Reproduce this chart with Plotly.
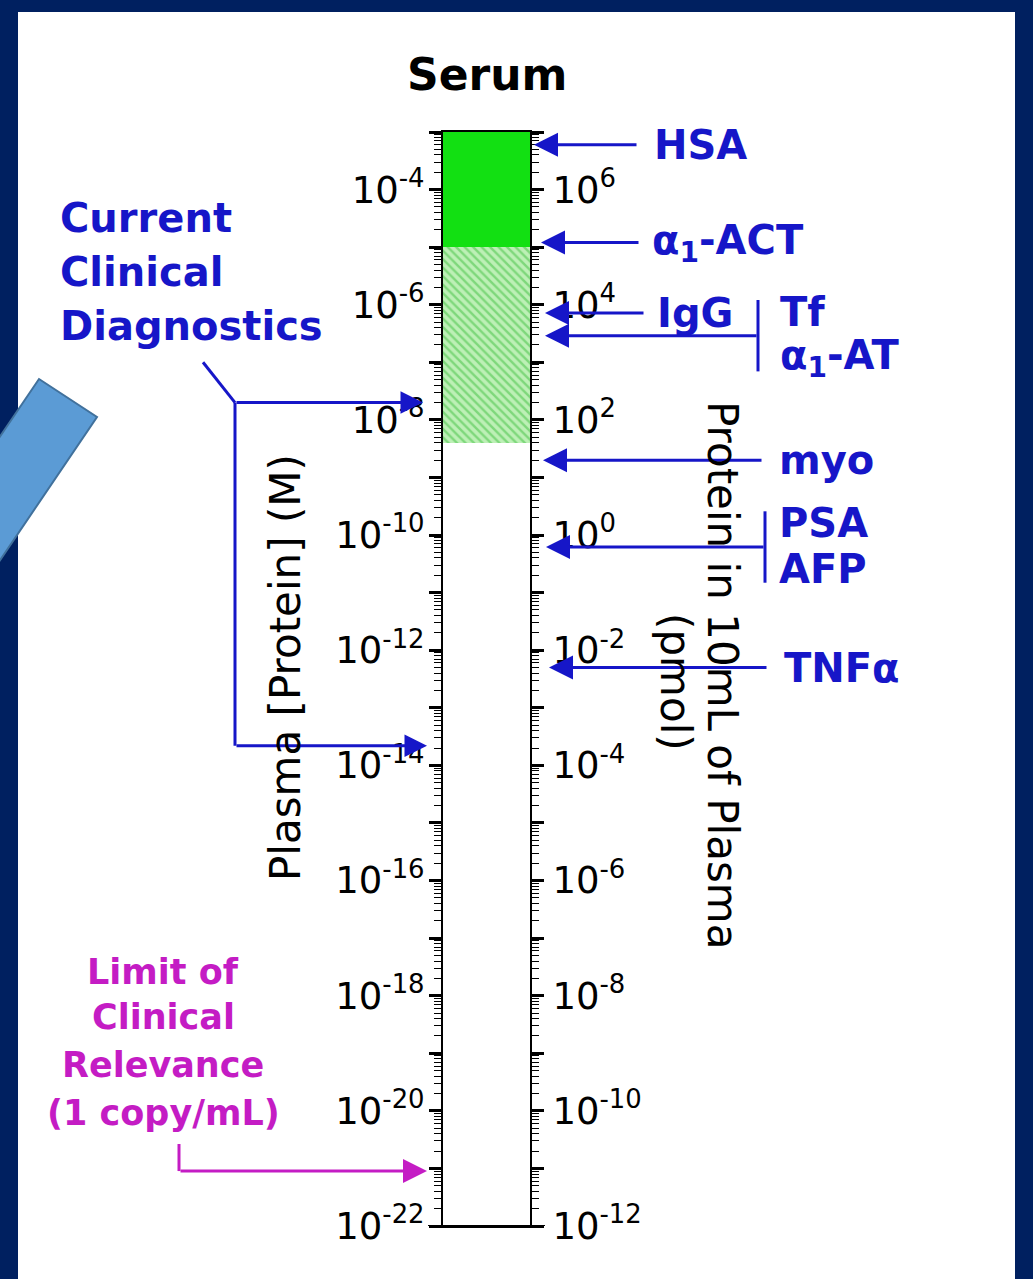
import numpy as np
import plotly.graph_objects as go

W, H = 1033, 1279

# ---- data -----------------------------------------------------------------
# proteins marked on the right-hand side and their plasma concentration (M)
protein_labels = [["HSA"], ["α<sub>1</sub>-ACT"], ["IgG"], ["Tf", "α<sub>1</sub>-AT"],
                  ["myo"], ["PSA", "AFP"], ["TNFα"]]
protein_conc_M = [6.0e-4, 1.2e-5, 7.2e-7, 2.9e-7, 2.0e-9, 6.2e-11, 5.0e-13]

# shaded column: hatched lower band and solid upper band (M)
band_low_M = [4.0e-9, 1.0e-5]
band_high_M = [1.0e-5, 1.0e-3]

# span covered by current clinical diagnostics (M)
clinical_range_M = [2.2e-14, 2.0e-8]
# limit of clinical relevance, 1 copy/mL (M)
limit_M = 9.0e-22

# axis ranges (log10) and tick labels
conc_range_log = [-22, -3]
pmol_per_M = 1e10            # 10 mL of plasma, expressed in pmol
left_tick_exp = [-22, -20, -18, -16, -14, -12, -10, -8, -6, -4]
left_tick_labels = ["10<sup>-22</sup>", "10<sup>-20</sup>", "10<sup>-18</sup>", "10<sup>-16</sup>",
                    "10<sup>-14</sup>", "10<sup>-12</sup>", "10<sup>-10</sup>", "10<sup>-8</sup>",
                    "10<sup>-6</sup>", "10<sup>-4</sup>"]
right_tick_exp = [-12, -10, -8, -6, -4, -2, 0, 2, 4, 6]
right_tick_labels = ["10<sup>-12</sup>", "10<sup>-10</sup>", "10<sup>-8</sup>", "10<sup>-6</sup>",
                     "10<sup>-4</sup>", "10<sup>-2</sup>", "10<sup>0</sup>", "10<sup>2</sup>",
                     "10<sup>4</sup>", "10<sup>6</sup>"]

# ---- style ----------------------------------------------------------------
NAVY = "#002060"
BLUE = "#1616c8"
MAGENTA = "#c41cc4"
FONT = "DejaVu Sans"


def px(x):
    return x / W


def py(y):
    return 1 - y / H


pmol_range_log = [r + np.log10(pmol_per_M) for r in conc_range_log]

fig = go.Figure()

# hatched band
fig.add_bar(x=[0], base=[band_low_M[0]], y=[band_high_M[0] - band_low_M[0]], width=1,
            marker=dict(color="#bff2b8", line=dict(width=0),
                        pattern=dict(shape="\\", fgcolor="#3fbf3f", bgcolor="#bdf0b6",
                                     size=6, solidity=0.4)),
            hoverinfo="skip", showlegend=False)
# solid band
fig.add_bar(x=[0], base=[band_low_M[1]], y=[band_high_M[1] - band_low_M[1]], width=1,
            marker=dict(color="#12e012", line=dict(width=0)),
            hoverinfo="skip", showlegend=False)

# empty traces so the overlaid tick / label axes are drawn
for yax in ["y2", "y3", "y4"]:
    fig.add_scatter(x=[None], y=[None], yaxis=yax, mode="markers",
                    hoverinfo="skip", showlegend=False)

tick_font = dict(family=FONT, size=37, color="black")
ydom = [py(1226), py(132)]

fig.update_layout(
    width=W, height=H, autosize=False,
    margin=dict(l=0, r=0, t=0, b=0, autoexpand=False),
    paper_bgcolor=NAVY, plot_bgcolor="white",
    barmode="overlay", bargap=0, showlegend=False,
    xaxis=dict(domain=[px(443), px(530)], range=[-0.5, 0.5], showticklabels=False,
               ticks="", showgrid=False, zeroline=False, showline=True, automargin=False,
               linecolor="black", linewidth=2, mirror=True, fixedrange=True),
    yaxis=dict(domain=ydom, type="log", range=conc_range_log, tickmode="linear",
               tick0=0, dtick=1, ticks="outside", ticklen=12, tickwidth=2.5,
               tickcolor="black", showticklabels=False, showgrid=False, zeroline=False,
               showline=True, linecolor="black", linewidth=2, automargin=False,
               minor=dict(ticks="outside", ticklen=7, tickwidth=1.2, tickcolor="black",
                          dtick="D1", showgrid=False)),
    yaxis2=dict(overlaying="y", anchor="x", side="left", type="log", range=conc_range_log,
                tickmode="array", tickvals=[10.0 ** e for e in left_tick_exp],
                ticktext=left_tick_labels, ticks="outside", ticklen=10,
                tickcolor="rgba(0,0,0,0)", tickfont=tick_font, showgrid=False,
                zeroline=False, showline=False, automargin=False),
    yaxis3=dict(overlaying="y", anchor="x", side="right", type="log", range=pmol_range_log,
                tickmode="linear", tick0=0, dtick=1, ticks="outside", ticklen=12,
                tickwidth=2.5, tickcolor="black", showticklabels=False, showgrid=False,
                zeroline=False, showline=True, linecolor="black", linewidth=2,
                automargin=False,
                minor=dict(ticks="outside", ticklen=7, tickwidth=1.2, tickcolor="black",
                           dtick="D1", showgrid=False)),
    yaxis4=dict(overlaying="y", anchor="x", side="right", type="log", range=pmol_range_log,
                tickmode="array", tickvals=[10.0 ** e for e in right_tick_exp],
                ticktext=right_tick_labels, ticks="outside", ticklen=14,
                tickcolor="rgba(0,0,0,0)", tickfont=tick_font, showgrid=False,
                zeroline=False, showline=False, automargin=False),
)

# white slide panel and the blue block arrow on its left edge
fig.add_shape(type="rect", xref="paper", yref="paper", x0=px(18), x1=px(1015),
              y0=-0.02, y1=py(12), fillcolor="white", line=dict(width=0), layer="below")
chevron = [(39, 379), (97, 417), (-29, 603), (-87, 565)]
path = "M " + " L ".join(f"{px(a):.5f},{py(b):.5f}" for a, b in chevron) + " Z"
fig.add_shape(type="path", xref="paper", yref="paper", path=path,
              fillcolor="#5b9bd5", line=dict(color="#41719c", width=2), layer="above")

# bottom rule spanning the tick marks
fig.add_shape(type="line", xref="paper", yref="y", x0=px(428), x1=px(545),
              y0=10.0 ** conc_range_log[0], y1=10.0 ** conc_range_log[0],
              line=dict(color="black", width=2))

# ---- right-hand protein markers -------------------------------------------
tip_px = [534, 541, 545, 545, 543, 546, 549]
tail_px = [638, 640, 645, 758, 763, 765, 768]
label_px = [652, 650, 655, 778, 777, 777, 782]
label_font = dict(family=FONT, size=40, color=BLUE)

for labels, conc, tip, tail, lx in zip(protein_labels, protein_conc_M, tip_px, tail_px, label_px):
    fig.add_annotation(x=px(tip), xref="paper", y=np.log10(conc), yref="y", text="",
                       showarrow=True, axref="pixel", ayref="pixel", ax=tail - tip, ay=0,
                       arrowhead=2, arrowsize=1.6, arrowwidth=3, arrowcolor=BLUE, standoff=0)
    if len(labels) == 1:
        fig.add_annotation(x=px(lx), xref="paper", y=np.log10(conc), yref="y",
                           text=f"<b>{labels[0]}</b>", showarrow=False, xanchor="left",
                           yanchor="middle", font=label_font)
    else:
        fig.add_shape(type="line", xref="paper", yref="y", x0=px(tail), x1=px(tail),
                      y0=conc / 10 ** 0.62, y1=conc * 10 ** 0.62,
                      line=dict(color=BLUE, width=3))
        for lab, shift in zip(labels, [24, -22]):
            fig.add_annotation(x=px(lx), xref="paper", y=np.log10(conc), yref="y",
                               yshift=shift, text=f"<b>{lab}</b>", showarrow=False,
                               xanchor="left", yanchor="middle", font=label_font)

# ---- left-hand brackets ---------------------------------------------------
lo, hi = clinical_range_M
fig.add_shape(type="line", xref="paper", yref="y", x0=px(235), x1=px(235), y0=lo, y1=hi,
              line=dict(color=BLUE, width=3))
fig.add_shape(type="line", xref="paper", yref="y", x0=px(235), x1=px(203),
              y0=hi, y1=hi * 10 ** 0.7, line=dict(color=BLUE, width=3))
for conc, tip in zip(clinical_range_M, [427, 423]):
    fig.add_annotation(x=px(tip), xref="paper", y=np.log10(conc), yref="y", text="",
                       showarrow=True, axref="pixel", ayref="pixel", ax=235 - tip, ay=0,
                       arrowhead=2, arrowsize=1.5, arrowwidth=3, arrowcolor=BLUE, standoff=0)

fig.add_shape(type="line", xref="paper", yref="y", x0=px(179), x1=px(179),
              y0=limit_M, y1=limit_M * 10 ** 0.47, line=dict(color=MAGENTA, width=3))
fig.add_annotation(x=px(427), xref="paper", y=np.log10(limit_M), yref="y", text="",
                   showarrow=True, axref="pixel", ayref="pixel", ax=179 - 427, ay=0,
                   arrowhead=2, arrowsize=1.6, arrowwidth=3, arrowcolor=MAGENTA, standoff=0)

# ---- text -----------------------------------------------------------------
fig.add_annotation(x=px(487), y=py(75), xref="paper", yref="paper", text="<b>Serum</b>",
                   showarrow=False, xanchor="center", yanchor="middle",
                   font=dict(family=FONT, size=44, color="black"))

for line, ypx in zip(["Current", "Clinical", "Diagnostics"], [218, 272, 326]):
    fig.add_annotation(x=px(58), y=py(ypx), xref="paper", yref="paper",
                       text=f"<b>{line}</b>", showarrow=False, xanchor="left",
                       yanchor="middle", font=dict(family=FONT, size=40, color=BLUE))

for line, ypx in zip(["Limit of", "Clinical", "Relevance", "(1 copy/mL)"],
                     [972, 1017, 1065, 1113]):
    fig.add_annotation(x=px(163), y=py(ypx), xref="paper", yref="paper",
                       text=f"<b>{line}</b>", showarrow=False, xanchor="center",
                       yanchor="middle", font=dict(family=FONT, size=35, color=MAGENTA))

axis_title_font = dict(family=FONT, size=42, color="black")
fig.add_annotation(x=px(285), y=py(668), xref="paper", yref="paper",
                   text="Plasma [Protein] (M)", textangle=-90, showarrow=False,
                   xanchor="center", yanchor="middle", font=axis_title_font)
fig.add_annotation(x=px(723), y=py(675), xref="paper", yref="paper",
                   text="Protein in 10mL of Plasma", textangle=90, showarrow=False,
                   xanchor="center", yanchor="middle", font=axis_title_font)
fig.add_annotation(x=px(676), y=py(682), xref="paper", yref="paper",
                   text="(pmol)", textangle=90, showarrow=False,
                   xanchor="center", yanchor="middle", font=axis_title_font)

fig.write_html("out.html")
